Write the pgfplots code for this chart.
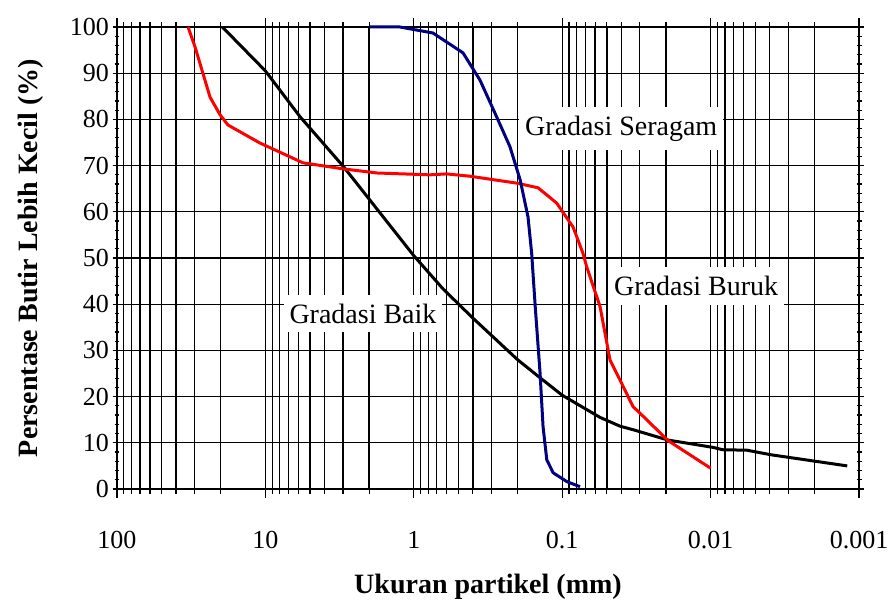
\documentclass[border=0pt]{standalone}
\usepackage{pgfplots}
\pgfplotsset{compat=1.18}
\usepackage{fontspec}
\setmainfont{Liberation Serif}
\definecolor{navyc}{RGB}{0,0,128}
\begin{document}
\begin{tikzpicture}
\begin{axis}[
  scale only axis, width=742pt, height=462pt,
  xmode=log, x dir=reverse,
  xmin=0.001, xmax=100, ymin=0, ymax=100,
  xtick={0.001,0.01,0.1,1,10,100},
  xticklabels={0.001,0.01,0.1,1,10,100},
  ytick={0,10,...,100},
  minor y tick num=4,
  grid=both,
  major grid style={black, line width=1.3pt},
  minor grid style={black, line width=1.3pt},
  minor y grid style={draw=none},
  axis line style={black, line width=1.4pt},
  tick style={black, line width=1.2pt},
  major tick length=9pt, minor tick length=5pt,
  ytick align=center, xtick align=outside,
  /pgf/number format/assume math mode=true,
  tick label style={font=\fontsize{26}{30}\selectfont},
  every x tick label/.style={yshift=-30pt},
  xlabel={\textbf{Ukuran partikel (mm)}},
  ylabel={\textbf{Persentase Butir Lebih Kecil (\%)}},
  label style={font=\fontsize{28}{32}\selectfont},
  xlabel style={yshift=-18pt},
  ylabel style={yshift=20pt},
  clip=false,
]
\node[fill=white, inner xsep=6pt, inner ysep=9pt, font=\fontsize{28}{32}\selectfont] at (axis cs:0.04,78) {Gradasi Seragam};
\node[fill=white, inner xsep=6pt, inner ysep=9pt, font=\fontsize{28}{32}\selectfont] at (axis cs:0.0125,44) {Gradasi Buruk};
\node[fill=white, inner xsep=6pt, inner ysep=9pt, font=\fontsize{28}{32}\selectfont] at (axis cs:2.2,38) {Gradasi Baik};
\addplot[black, line width=3pt, line join=round] coordinates {
(19.5,100) (10,90.5) (5.85,80.6) (2.98,69.8) (1,50.5) (0.635,43.3) (0.4,37) (0.2,28) (0.14,24) (0.1,20.3) (0.0556,15.5) (0.0408,13.6) (0.033,12.8) (0.0194,10.6) (0.0096,9.0) (0.0083,8.5) (0.0057,8.4) (0.0039,7.4) (0.00178,5.8) (0.0012,5.0)
};
\addplot[red, line width=3pt, line join=round] coordinates {
(33.2,100) (29.8,95.7) (23.6,84.8) (20.2,81) (17.9,78.8) (10.9,74.9) (5.58,70.6) (3.0,69.3) (1.77,68.4) (0.78,68.0) (0.6,68.2) (0.418,67.7) (0.202,66.2) (0.1455,65.2) (0.109,61.9) (0.0845,56.7) (0.0724,51) (0.0684,48.1) (0.0556,39.5) (0.0476,27.9) (0.0408,23.6) (0.0333,17.8) (0.031,16.9) (0.0194,10.5) (0.01,4.5)
};
\addplot[navyc, line width=3pt, line join=round] coordinates {
(1.97,100) (1.24,100) (0.743,98.7) (0.466,94.4) (0.358,88.5) (0.277,80.6) (0.225,74.1) (0.192,66.9) (0.170,58.9) (0.1606,51) (0.152,39.5) (0.141,25.1) (0.1346,13.5) (0.127,6.3) (0.115,3.5) (0.093,1.6) (0.0759,0.5)
};
\end{axis}
\path ([shift={(-117pt,-111pt)}]current axis.south west) rectangle ([shift={(34pt,27pt)}]current axis.north east);
\end{tikzpicture}
\end{document}
